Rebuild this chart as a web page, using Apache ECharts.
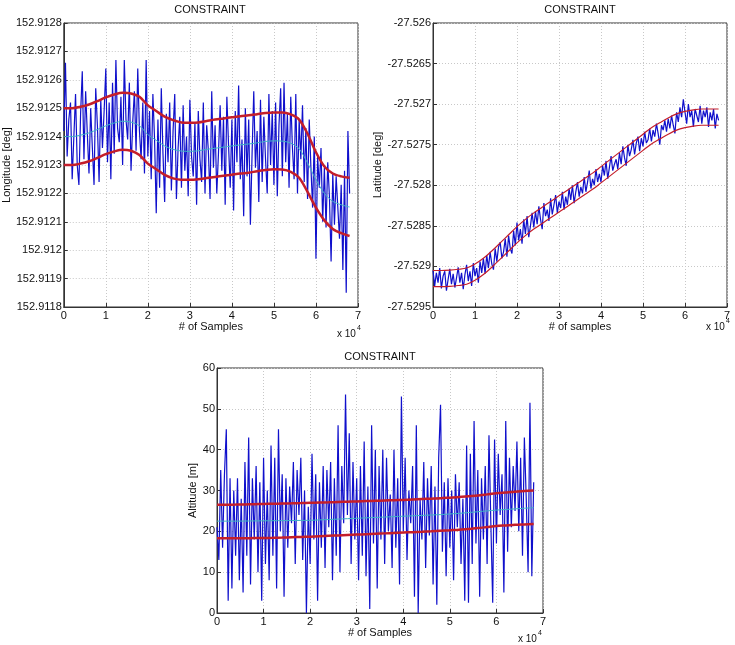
<!DOCTYPE html>
<html>
<head>
<meta charset="utf-8">
<script src="https://cdn.jsdelivr.net/npm/echarts@6/dist/echarts.min.js"></script>
<style>
html,body{margin:0;padding:0;background:#fff;}
#chart{width:735px;height:645px;}
</style>
</head>
<body>
<div id="chart"></div>
<script>
// ---------- DATA ----------
const sampleStep = 400; // samples between plotted noisy points
const xTickLabels = ['0','1','2','3','4','5','6','7'];

const longitude = [
152.91242,152.91266,152.91233,152.91246,152.91252,152.91225,152.91240,152.91255,152.91230,152.91223,
152.91248,152.91263,152.91232,152.91256,152.91241,152.91227,152.91250,152.91236,152.91223,152.91257,
152.91244,152.91224,152.91253,152.91236,152.91249,152.91264,152.91231,152.91252,152.91225,152.91259,
152.91234,152.91267,152.91243,152.91238,152.91254,152.91230,152.91267,152.91246,152.91239,152.91259,
152.91228,152.91245,152.91256,152.91235,152.91264,152.91242,152.91232,152.91252,152.91227,152.91267,
152.91233,152.91249,152.91225,152.91255,152.91239,152.91213,152.91246,152.91222,152.91257,152.91234,
152.91217,152.91248,152.91231,152.91252,152.91221,152.91242,152.91255,152.91218,152.91236,152.91247,
152.91222,152.91251,152.91228,152.91240,152.91219,152.91253,152.91233,152.91226,152.91245,152.91216,
152.91249,152.91232,152.91224,152.91252,152.91220,152.91244,152.91235,152.91218,152.91256,152.91229,
152.91244,152.91220,152.91234,152.91251,152.91228,152.91247,152.91216,152.91254,152.91237,152.91222,
152.91246,152.91214,152.91249,152.91231,152.91258,152.91225,152.91239,152.91212,152.91250,152.91226,
152.91246,152.91209,152.91234,152.91256,152.91229,152.91242,152.91217,152.91253,152.91224,152.91247,
152.91232,152.91220,152.91255,152.91230,152.91249,152.91223,152.91252,152.91219,152.91244,152.91257,
152.91226,152.91259,152.91231,152.91248,152.91222,152.91254,152.91236,152.91225,152.91255,152.91220,
152.91246,152.91232,152.91251,152.91224,152.91243,152.91218,152.91246,152.91229,152.91215,152.91240,
152.91197,152.91233,152.91222,152.91236,152.91210,152.91229,152.91208,152.91231,152.91219,152.91196,
152.91227,152.91209,152.91226,152.91215,152.91204,152.91223,152.91193,152.91228,152.91185,152.91242,
152.91220
];

const latitude = [
-27.52905,-27.52924,-27.52908,-27.52920,-27.52902,-27.52927,-27.52912,-27.52906,-27.52930,-27.52916,
-27.52903,-27.52922,-27.52909,-27.52926,-27.52914,-27.52901,-27.52920,-27.52908,-27.52928,-27.52910,
-27.52898,-27.52918,-27.52906,-27.52924,-27.52896,-27.52912,-27.52902,-27.52920,-27.52894,-27.52908,
-27.52890,-27.52909,-27.52886,-27.52902,-27.52882,-27.52897,-27.52904,-27.52878,-27.52894,-27.52876,
-27.52870,-27.52890,-27.52882,-27.52866,-27.52888,-27.52862,-27.52878,-27.52884,-27.52856,-27.52874,
-27.52846,-27.52868,-27.52854,-27.52872,-27.52842,-27.52860,-27.52838,-27.52864,-27.52850,-27.52834,
-27.52852,-27.52832,-27.52848,-27.52826,-27.52842,-27.52854,-27.52822,-27.52838,-27.52830,-27.52844,
-27.52816,-27.52836,-27.52824,-27.52812,-27.52834,-27.52820,-27.52828,-27.52808,-27.52830,-27.52814,
-27.52824,-27.52804,-27.52818,-27.52800,-27.52822,-27.52808,-27.52796,-27.52814,-27.52802,-27.52810,
-27.52790,-27.52808,-27.52796,-27.52782,-27.52804,-27.52792,-27.52800,-27.52780,-27.52796,-27.52786,
-27.52796,-27.52776,-27.52788,-27.52770,-27.52792,-27.52778,-27.52764,-27.52782,-27.52774,-27.52768,
-27.52780,-27.52760,-27.52774,-27.52752,-27.52766,-27.52776,-27.52750,-27.52764,-27.52756,-27.52744,
-27.52762,-27.52748,-27.52740,-27.52758,-27.52742,-27.52752,-27.52734,-27.52748,-27.52744,-27.52730,
-27.52746,-27.52732,-27.52740,-27.52724,-27.52736,-27.52750,-27.52726,-27.52732,-27.52720,-27.52734,
-27.52718,-27.52730,-27.52714,-27.52726,-27.52736,-27.52710,-27.52722,-27.52704,-27.52716,-27.52694,
-27.52710,-27.52724,-27.52700,-27.52716,-27.52708,-27.52728,-27.52706,-27.52714,-27.52722,-27.52702,
-27.52724,-27.52708,-27.52716,-27.52704,-27.52728,-27.52710,-27.52720,-27.52706,-27.52730,-27.52712,
-27.52720
];

const altitude = [
21,13,35,16,34,45,3,33,6,30,
14,33,8,28,5,37,14,43,7,33,
18,36,10,32,3,38,12,30,8,41,
14,38,6,45,20,34,4,33,16,31,
22,37,12,35,24,38,13,30,0,26,
12,39,18,34,3,32,16,36,11,35,
21,37,8,33,14,46,10,36,22,53.5,
24,44,12,37,18,33,8,36,14,42,
9,31,1,46,17,40,6,36,18,40,
12,38,20,29,11,40,16,33,7,53,
20,38,13,30,22,36,4,46,0,28,
18,37,11,33,19,36,7,31,2,38,
51,15,32,9,33,16,30,8,34,21,
32,12,28,3,41,2.5,39,12,47,17,
35,4,33,18,36,12,43.5,22,2.5,42.5,
17,39,24,34,5,47,15,38,21,36,
25,42,20,38,14,43,28,10,51.5,9,
32
];

// smooth constraint / mean curves (every 2000 samples)
const curveSamples = [0,2000,4000,6000,8000,10000,12000,14000,16000,18000,20000,22000,24000,26000,28000,30000,32000,34000,
  36000,38000,40000,42000,44000,46000,48000,50000,52000,54000,56000,58000,60000,62000,64000,66000,68000];
const lonUpper = [152.91250,152.91250,152.912505,152.912513,152.912525,152.912538,152.912548,152.912554,152.912552,152.91254,
  152.91251,152.91249,152.91247,152.912458,152.91245,152.912449,152.91245,152.912455,152.91246,152.912464,152.912468,
  152.912472,152.912475,152.912479,152.912483,152.912485,152.912485,152.912478,152.91246,152.91241,152.912345,152.912295,152.91227,152.91226,152.912255];
const lonLower = [152.91230,152.91230,152.912305,152.912313,152.912325,152.912338,152.912348,152.912354,152.91235,152.912335,
  152.912305,152.912285,152.912265,152.912253,152.912248,152.912248,152.91225,152.912254,152.912258,152.912262,152.912266,
  152.91227,152.912273,152.912278,152.912282,152.912285,152.912284,152.912276,152.912255,152.912205,152.91215,152.912105,152.912075,152.91206,152.91205];
const lonMean  = [152.91240,152.91240,152.912405,152.912413,152.912425,152.912438,152.912448,152.912454,152.912451,152.912438,
  152.912407,152.912387,152.912367,152.912355,152.912349,152.912348,152.91235,152.912355,152.912359,152.912363,152.912367,
  152.912371,152.912374,152.912378,152.912383,152.912385,152.912384,152.912377,152.912357,152.912307,152.912248,152.9122,152.912172,152.91216,152.912152];
const latUpper = [-27.52905,-27.52905,-27.529045,-27.529035,-27.52902,-27.52897,-27.52890,-27.52881,-27.52871,-27.52861,
  -27.52851,-27.52842,-27.52834,-27.52827,-27.52820,-27.52813,-27.52806,-27.52799,-27.52792,-27.52785,-27.52777,
  -27.52769,-27.52761,-27.52753,-27.52745,-27.52737,-27.52729,-27.52723,-27.52717,-27.52712,-27.52709,-27.52707,-27.52706,-27.52706,-27.52706];
const latLower = [-27.52925,-27.52925,-27.529245,-27.529235,-27.52922,-27.52917,-27.52910,-27.52901,-27.52891,-27.52881,
  -27.52871,-27.52862,-27.52854,-27.52847,-27.52840,-27.52833,-27.52826,-27.52819,-27.52812,-27.52805,-27.52797,
  -27.52789,-27.52781,-27.52773,-27.52765,-27.52757,-27.52749,-27.52743,-27.52737,-27.52732,-27.52729,-27.52727,-27.52726,-27.52726,-27.52726];
const altUpper = [26.5,26.52,26.55,26.6,26.65,26.7,26.75,26.8,26.85,26.92,27.0,27.05,27.1,27.18,27.25,27.32,27.4,27.48,
  27.55,27.62,27.7,27.8,27.9,28.0,28.1,28.25,28.4,28.6,28.8,29.05,29.3,29.5,29.7,29.85,30.0];
const altLower = [18.3,18.3,18.3,18.32,18.35,18.37,18.4,18.47,18.55,18.62,18.7,18.8,18.9,19.0,19.1,19.2,19.3,19.4,
  19.5,19.6,19.7,19.8,19.9,20.02,20.15,20.27,20.4,20.6,20.8,21.05,21.3,21.45,21.6,21.7,21.8];
const altMean  = [22.5,22.5,22.5,22.52,22.55,22.57,22.6,22.62,22.65,22.67,22.7,22.8,22.9,23.0,23.1,23.2,23.3,23.4,
  23.5,23.6,23.7,23.8,23.9,24.0,24.1,24.25,24.4,24.6,24.8,25.0,25.2,25.35,25.5,25.65,25.8];

// ---------- BUILD ----------
const FONT = "'Liberation Sans', Arial, sans-serif";
const noisy = vals => vals.map((v,i)=>[i*sampleStep, v]);
const curve = vals => vals.map((v,i)=>[curveSamples[i], v]);
const fmt4 = v => String(parseFloat(Number(v).toFixed(4)));

const BLUE = '#1010cc', RED = '#c41e2a', CYAN = '#3fb3c6';

function xAxisCfg(gi, name, gap){
  return {
    gridIndex: gi, type:'value', min:0, max:70000, interval:10000,
    name: name, nameLocation:'middle', nameGap: gap,
    nameTextStyle:{fontFamily:FONT,fontSize:11,color:'#111'},
    axisLine:{show:true,lineStyle:{color:'#333',width:1}},
    axisTick:{show:true,inside:true,length:4,lineStyle:{color:'#333'}},
    axisLabel:{fontFamily:FONT,fontSize:11,color:'#111',margin:3,
      formatter:v=>xTickLabels[Math.round(v/10000)]},
    splitLine:{show:true,lineStyle:{color:'#c8c8c8',type:[1,2],width:1}}
  };
}
function yAxisCfg(gi, name, gap, min, max, interval, formatter){
  return {
    gridIndex: gi, type:'value', min:min, max:max, interval:interval,
    name: name, nameLocation:'middle', nameGap: gap, nameRotate:90,
    nameTextStyle:{fontFamily:FONT,fontSize:11,color:'#111'},
    axisLine:{show:true,lineStyle:{color:'#333',width:1}},
    axisTick:{show:true,inside:true,length:4,lineStyle:{color:'#333'}},
    axisLabel:{fontFamily:FONT,fontSize:11,color:'#111',margin:2,formatter:formatter},
    splitLine:{show:true,lineStyle:{color:'#c8c8c8',type:[1,2],width:1}}
  };
}
function line(gi, data, color, width, z, smooth){
  return {type:'line', xAxisIndex:gi, yAxisIndex:gi, data:data, showSymbol:false, symbol:'none',
    smooth: smooth ? 0.3 : false, z:z, lineStyle:{color:color,width:width}, silent:true};
}
function txt(x,y,text,size,align){
  return {type:'text', x:x, y:y, silent:true,
    style:{text:text, font: size+'px '+FONT, fill:'#111', align:align||'center', verticalAlign:'middle'}};
}

const chart = echarts.init(document.getElementById('chart'), null, {renderer:'canvas'});
chart.setOption({
  animation:false,
  backgroundColor:'#fff',
  grid:[
    {left:62, top:23, width:296, height:284, show:true, borderColor:'#333', borderWidth:1, containLabel:false},
    {left:433, top:23, width:294, height:284, show:true, borderColor:'#333', borderWidth:1, containLabel:false},
    {left:217, top:368, width:326, height:245, show:true, borderColor:'#333', borderWidth:1, containLabel:false}
  ],
  xAxis:[
    xAxisCfg(0,'# of Samples',14),
    xAxisCfg(1,'# of samples',14),
    xAxisCfg(2,'# of Samples',13)
  ],
  yAxis:[
    yAxisCfg(0,'Longitude [deg]',44,152.9118,152.9128,0.0001,fmt4),
    yAxisCfg(1,'Latitude [deg]',45,-27.5295,-27.526,0.0005,fmt4),
    yAxisCfg(2,'Altitude [m]',17,0,60,10,v=>String(v))
  ],
  series:[
    line(0, noisy(longitude), BLUE, 1.2, 2, false),
    line(0, curve(lonMean), CYAN, 1, 3, true),
    line(0, curve(lonUpper), RED, 2.5, 4, true),
    line(0, curve(lonLower), RED, 2.5, 4, true),
    line(1, noisy(latitude), BLUE, 1.2, 2, false),
    line(1, curve(latUpper), RED, 1.2, 4, true),
    line(1, curve(latLower), RED, 1.2, 4, true),
    line(2, noisy(altitude), BLUE, 1.2, 2, false),
    line(2, curve(altMean), CYAN, 1, 3, true),
    line(2, curve(altUpper), RED, 2.5, 4, true),
    line(2, curve(altLower), RED, 2.5, 4, true)
  ],
  graphic:[
    txt(210,10,'CONSTRAINT',11),
    txt(580,10,'CONSTRAINT',11),
    txt(380,357,'CONSTRAINT',11),
    txt(337,334,'x 10',10,'left'), txt(357,328,'4',7,'left'),
    txt(706,327,'x 10',10,'left'), txt(726,321,'4',7,'left'),
    txt(518,639,'x 10',10,'left'), txt(538,633,'4',7,'left')
  ]
});
</script>
</body>
</html>
